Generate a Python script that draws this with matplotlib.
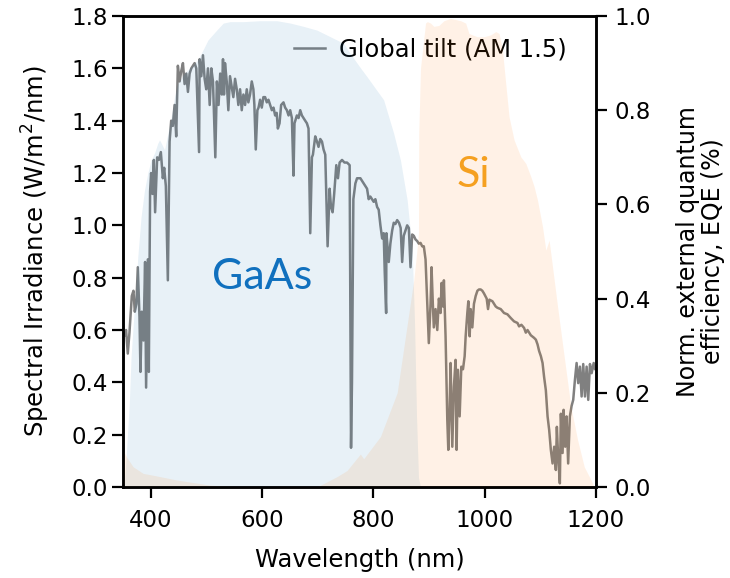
import matplotlib
matplotlib.use("Agg")
import matplotlib.pyplot as plt
import numpy as np

# AM1.5 global tilt spectrum
wl = [352.6, 355.5, 358.6, 361.6, 365.8, 368.8, 371.2, 374, 376.6, 379.6, 381.4, 383.8, 386.8, 389.7,
      391.5, 394.6, 396.4, 398.7, 400.5, 403, 405.4, 407.7, 411.4, 414.5, 418, 421.6, 424, 427, 430.6,
      433.7, 436.6, 439.5, 442.7, 445.6, 448.6, 451.7, 454.7, 457.7, 460.7, 463.7, 466.7, 469.7, 472.7,
      478.7, 481.7, 486.7, 487.7, 490.7, 493.7, 496.7, 499.6, 502.7, 505.8, 508.7, 511.7, 515.9, 518.7,
      521.7, 524.7, 527.7, 529.7, 531.5, 533.3, 536.4, 539.3, 542.3, 545.3, 548.3, 551.4, 554.4, 557.3,
      560.4, 563.4, 566.4, 569.4, 572.4, 575.3, 578.3, 581.4, 584.3, 586.1, 588.6, 591.5, 593.6, 596.4,
      599.4, 602.3, 605.4, 608.4, 611.4, 614.4, 617.5, 620.5, 623.4, 626.2, 628.3, 631.3, 634.2, 638.4,
      641.4, 644.5, 647.5, 650.5, 653.5, 656.4, 658.2, 662.5, 665.5, 668.5, 671.5, 674.4, 677.4, 680.5,
      683.4, 686.5, 689.5, 691.3, 695.5, 698.6, 701.4, 704.5, 707.6, 710.4, 713.5, 717.7, 721.3, 723.8,
      726.7, 729.5, 733.3, 736.3, 739.3, 743.6, 748, 752.6, 757.3, 759.8, 761.5, 764, 767.6, 770.6,
      776.6, 782.5, 788.6, 791.5, 794.5, 797.5, 800.5, 803.5, 806.7, 809.5, 812.6, 815.7, 818.5, 820.4,
      822.9, 823.4, 825.8, 827.6, 830.5, 833.7, 836.6, 839.5, 842.7, 846, 849, 851.7, 854.5, 857.7,
      860.7, 863.7, 866.7, 869.7, 872.6, 875.7, 878.7, 881.6, 884.7, 887.7, 890.6, 893.7, 896.8, 899.6,
      902.7, 904.5, 906.8, 908.6, 911.7, 914.8, 917.7, 920.7, 922.5, 924.9, 926.7, 929.7, 932.8, 934.6,
      936.9, 938.7, 941.8, 944.7, 947.7, 949.5, 951.9, 955, 958, 961, 964, 965.8, 968.8, 970.6, 973,
      974.8, 977.8, 980.7, 983.8, 986.9, 989.7, 992.8, 995.8, 998.7, 1003.6, 1006, 1008.5, 1013.9,
      1019.8, 1022.9, 1028.8, 1034.8, 1040.9, 1046.8, 1052.8, 1058.9, 1061.8, 1066, 1070.8, 1073.9,
      1077, 1082.9, 1088.8, 1092, 1095, 1097.8, 1101, 1104, 1106.8, 1109.9, 1113, 1115.9, 1118.9, 1122,
      1124.9, 1127.9, 1129.7, 1132, 1135.1, 1136.9, 1140, 1141.8, 1144.7, 1147.2, 1150, 1153.1, 1156.2,
      1159.1, 1162.2, 1165.2, 1168.1, 1171.2, 1174.2, 1177.1, 1180.2, 1183.2, 1186.1, 1189.2, 1192.2,
      1195.9, 1198.2, 1200]
irr = [0.58, 0.60, 0.51, 0.59, 0.73, 0.75, 0.67, 0.70, 0.84, 0.65, 0.44, 0.67, 0.56, 0.86,
       0.38, 0.87, 0.44, 1.13, 1.20, 1.12, 1.25, 1.05, 1.26, 1.25, 1.28, 1.18, 1.22, 1.15, 0.79,
       1.32, 1.40, 1.38, 1.46, 1.34, 1.61, 1.55, 1.59, 1.62, 1.54, 1.58, 1.51, 1.58, 1.60,
       1.62, 1.60, 1.28, 1.635, 1.57, 1.65, 1.56, 1.52, 1.60, 1.46, 1.60, 1.55, 1.26, 1.55,
       1.46, 1.58, 1.50, 1.635, 1.50, 1.62, 1.55, 1.44, 1.57, 1.53, 1.49, 1.56, 1.52, 1.46,
       1.52, 1.44, 1.50, 1.46, 1.52, 1.47, 1.50, 1.55, 1.52, 1.46, 1.29, 1.44, 1.45, 1.48,
       1.45, 1.49, 1.49, 1.47, 1.48, 1.46, 1.44, 1.45, 1.42, 1.43, 1.37, 1.39, 1.46, 1.47,
       1.45, 1.44, 1.42, 1.44, 1.41, 1.19, 1.39, 1.42, 1.41, 1.44, 1.42, 1.41, 1.40, 1.39,
       1.37, 0.97, 1.26, 1.27, 1.34, 1.32, 1.30, 1.33, 1.32, 1.29, 1.27, 0.92, 1.14, 1.07,
       1.05, 1.12, 1.23, 1.18, 1.24, 1.25, 1.24, 1.24, 1.23, 0.15, 0.40, 1.10, 1.16, 1.18,
       1.18, 1.16, 1.14, 1.10, 1.11, 1.10, 1.09, 1.10, 1.07, 1.06, 1.00, 0.95, 0.97, 0.82,
       0.665, 0.97, 0.91, 0.86, 0.93, 0.98, 1.01, 1.005, 1.02, 1.01, 0.99, 0.86, 0.96, 0.98,
       1.00, 0.99, 0.84, 0.965, 0.96, 0.946, 0.94, 0.93, 0.933, 0.92, 0.92, 0.87, 0.70, 0.55,
       0.70, 0.84, 0.70, 0.61, 0.68, 0.60, 0.72, 0.665, 0.78, 0.69, 0.79, 0.576, 0.257, 0.142,
       0.295, 0.474, 0.154, 0.384, 0.486, 0.142, 0.448, 0.27, 0.46, 0.45, 0.50, 0.576, 0.665, 0.71, 0.576,
       0.68, 0.61, 0.70, 0.73, 0.75, 0.755, 0.755, 0.75, 0.74, 0.72, 0.68, 0.716, 0.71,
       0.69, 0.685, 0.68, 0.665, 0.66, 0.646, 0.633, 0.627, 0.614, 0.62, 0.608, 0.59,
       0.60, 0.58, 0.57, 0.563, 0.545, 0.52, 0.50, 0.474, 0.42, 0.37, 0.27, 0.218, 0.142, 0.09,
       0.154, 0.065, 0.23, 0.116, 0.014, 0.28, 0.13, 0.295, 0.154, 0.27, 0.09, 0.27, 0.31,
       0.333, 0.41, 0.474, 0.397, 0.46, 0.346, 0.47, 0.346, 0.46, 0.333, 0.47, 0.435,
       0.474, 0.45, 0.46]

# Normalised EQE, GaAs
gaas_wl = [352, 355, 358, 361.6, 364.5, 370.6, 376.6, 382.5, 388.6, 394.6, 400.5, 406.7, 412.6, 415.7,
           424.7, 430.6, 436.6, 442.7, 448.6, 460.7, 472.6, 484.7, 496.8, 502.7, 518.4, 530.3, 542.3,
           566.3, 596.4, 626.5, 650.5, 674.4, 698.6, 722.5, 746.5, 758.6, 776.6, 788.6, 818.4, 836.4,
           848.6, 860.7, 869.7, 873.9, 877.5, 881, 884.7, 1200]
gaas_eqe = [0.0, 0.05, 0.11, 0.185, 0.277, 0.383, 0.489, 0.574, 0.63, 0.667, 0.694, 0.709, 0.73, 0.737,
            0.716, 0.75, 0.786, 0.829, 0.857, 0.879, 0.892, 0.907, 0.935, 0.949, 0.97, 0.985, 0.988,
            0.988, 0.99, 0.99, 0.985, 0.978, 0.97, 0.956, 0.942, 0.92, 0.89, 0.871, 0.822, 0.751,
            0.694, 0.609, 0.503, 0.35, 0.15, 0.02, 0.0, 0.0]

# Normalised EQE, Si
si_wl = [350, 356.2, 368.1, 386.1, 404.1, 446.3, 506.3, 565.8, 698.6, 734.6, 752.6, 776.6, 782.5, 812.6,
         842.7, 872.6, 878, 881, 881.5, 884.7, 893.7, 896.8, 902.7, 908.6, 917.7, 926.7, 938.7, 956.8,
         965.8, 971.7, 977.8, 986.8, 998.7, 1010.8, 1019.8, 1025.8, 1031.9, 1037.8, 1043.8, 1052.8,
         1064.9, 1073.9, 1082.9, 1088.8, 1094.9, 1103.9, 1109.9, 1115.8, 1131, 1142.9, 1155, 1167,
         1178.9, 1191, 1197, 1200]
si_eqe = [0.079, 0.064, 0.043, 0.029, 0.025, 0.015, 0.004, 0.0, 0.0, 0.022, 0.035, 0.07, 0.06, 0.107,
          0.2, 0.44, 0.50, 0.54, 0.75, 0.89, 0.985, 0.988, 0.985, 0.978, 0.98, 0.99, 0.995, 0.99,
          0.985, 0.963, 0.96, 0.956, 0.956, 0.96, 0.967, 0.963, 0.928, 0.857, 0.786, 0.737,
          0.701, 0.687, 0.659, 0.638, 0.609, 0.553, 0.503, 0.524, 0.383, 0.277, 0.17, 0.10,
          0.043, 0.015, 0.0, 0.0]

xticks = [400, 600, 800, 1000, 1200]
yticks_left = [0.0, 0.2, 0.4, 0.6, 0.8, 1.0, 1.2, 1.4, 1.6, 1.8]
yticks_right = [0.0, 0.2, 0.4, 0.6, 0.8, 1.0]

plt.rcParams['font.family'] = ['DejaVu Sans']
fig = plt.figure(figsize=(7.3, 5.78), dpi=100)
ax = fig.add_axes([0.1685, 0.1574, 0.6479, 0.8149])
ax.plot(wl, irr, color='grey', lw=1.8, label='Global tilt (AM 1.5)')
ax.set_xlim(350, 1200)
ax.set_ylim(0, 1.8)
ax.set_xticks(xticks)
ax.set_yticks(yticks_left)
ax.set_yticklabels([f"{v:.1f}" for v in yticks_left])
ax.set_xlabel('Wavelength (nm)', fontsize=17.5, labelpad=11)
ax.set_ylabel('Spectral Irradiance (W/m$^2$/nm)', fontsize=17.5, labelpad=14)
ax.tick_params(axis='both', labelsize=16.5, width=1.6, length=8)
ax.tick_params(axis='x', pad=8)
ax.tick_params(axis='y', pad=3)
for s in ax.spines.values():
    s.set_linewidth(1.8)

ax2 = ax.twinx()
ax2.fill_between(gaas_wl, gaas_eqe, 0, color='tab:blue', alpha=0.1, lw=0)
ax2.fill_between(si_wl, si_eqe, 0, color='tab:orange', alpha=0.1, lw=0)
ax2.set_ylim(0, 1.0)
ax2.set_yticks(yticks_right)
ax2.set_yticklabels([f"{v:.1f}" for v in yticks_right])
ax2.set_ylabel('Norm. external quantum\nefficiency, EQE (%)', fontsize=17, labelpad=18,
               linespacing=1.1)
ax2.tick_params(labelsize=16.5, width=1.6, length=8, pad=5)
for s in ax2.spines.values():
    s.set_linewidth(1.8)

leg = ax.legend(loc='upper right', frameon=False, fontsize=17.5, bbox_to_anchor=(0.985, 1.0),
                handlelength=1.25, handletextpad=0.6)

ax2.text(600, 0.446, 'GaAs', color='#1070BE', fontsize=31, family=['Lato', 'DejaVu Sans'],
         ha='center', va='center')
ax2.text(980, 0.662, 'Si', color='#F5A020', fontsize=31, family=['Lato', 'DejaVu Sans'],
         ha='center', va='center')

fig.savefig('out.png', dpi=100)
